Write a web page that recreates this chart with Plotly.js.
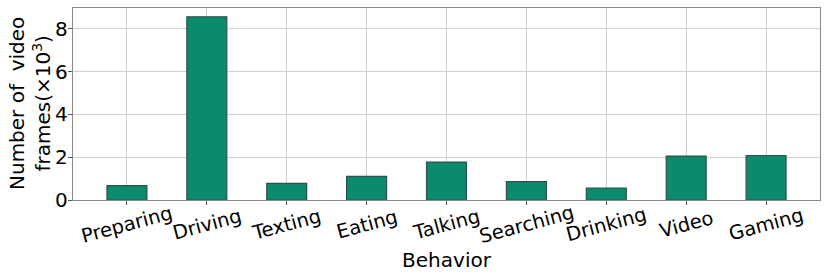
<!DOCTYPE html>
<html>
<head>
<meta charset="utf-8">
<script src="https://cdn.plot.ly/plotly-3.0.1.min.js"></script>
<style>html,body{margin:0;padding:0;background:#fff;}#chart{width:830px;height:277px;}</style>
</head>
<body>
<div id="chart"></div>
<script>
const behaviors = ["Preparing","Driving","Texting","Eating","Talking","Searching","Drinking","Video","Gaming"];
const frames = [0.67, 8.56, 0.78, 1.10, 1.77, 0.86, 0.56, 2.05, 2.08];
const yTicks = [0, 2, 4, 6, 8];

const idx = behaviors.map((_, i) => i);
const font = "DejaVu Sans, sans-serif";

const trace = {
  type: "bar",
  x: idx,
  y: frames,
  width: 0.5,
  marker: {color: "#0b8b6b", line: {color: "#2b524c", width: 1.2}},
  hoverinfo: "none"
};

const labelAnns = behaviors.map((b, i) => ({
  x: i, xref: "x", y: 0, yref: "paper",
  text: b, showarrow: false, textangle: -15,
  xanchor: "center", yanchor: "middle", yshift: -24,
  font: {family: font, size: 19.5, color: "#000"}
}));

labelAnns.push({
  x: 0, xref: "paper", y: 0.5, yref: "paper",
  xanchor: "center", yanchor: "middle", xshift: -43,
  text: "Number of  video<br>frames(×10<sup>3</sup>)", showarrow: false, textangle: -90,
  font: {family: font, size: 20, color: "#000"}
});

const layout = {
  width: 830, height: 277,
  margin: {l: 73, r: 10, t: 8, b: 77},
  paper_bgcolor: "#fff", plot_bgcolor: "#fff",
  showlegend: false,
  font: {family: font, color: "#000"},
  xaxis: {
    range: [-0.675, 8.675],
    tickvals: idx, ticktext: behaviors, showticklabels: false,
    ticks: "outside", ticklen: 4, tickcolor: "#555",
    showgrid: true, gridcolor: "#d0d0d0", gridwidth: 1,
    zeroline: false,
    showline: true, linecolor: "#888", linewidth: 1.2, mirror: true,
    title: {text: "Behavior", font: {family: font, size: 20, color: "#000"}, standoff: 48},
    automargin: false
  },
  yaxis: {
    range: [0, 8.97],
    tickvals: yTicks,
    ticks: "outside", ticklen: 4, tickcolor: "#555",
    ticklabelstandoff: -4,
    tickfont: {family: font, size: 20, color: "#000"},
    showgrid: true, gridcolor: "#d0d0d0", gridwidth: 1,
    zeroline: false,
    showline: true, linecolor: "#888", linewidth: 1.2, mirror: true,
    automargin: false
  },
  annotations: labelAnns
};

Plotly.newPlot("chart", [trace], layout, {staticPlot: true, displayModeBar: false});
</script>
</body>
</html>
